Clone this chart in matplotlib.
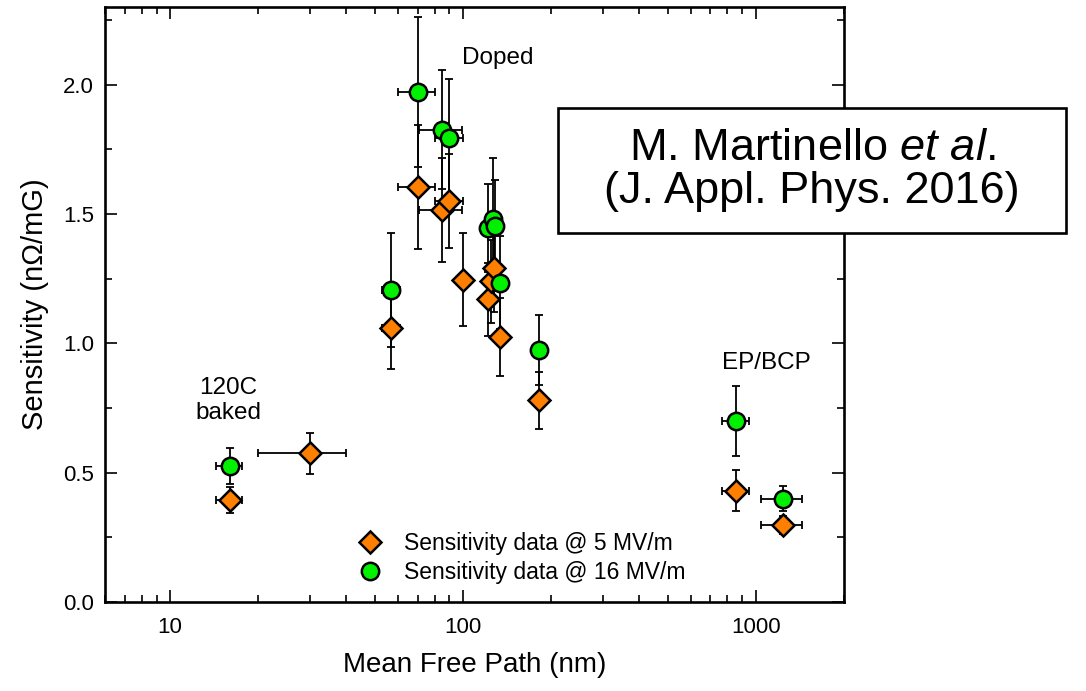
import matplotlib.pyplot as plt
import matplotlib.patches as patches
from matplotlib.ticker import FixedLocator, MultipleLocator, FormatStrFormatter, LogLocator, NullFormatter
import numpy as np

plt.rcParams['font.family'] = ['Liberation Sans', 'DejaVu Sans']
plt.rcParams['mathtext.fontset'] = 'custom'
plt.rcParams['mathtext.rm'] = 'Liberation Sans'
plt.rcParams['mathtext.it'] = 'Liberation Sans:italic'

# sensitivity data @ 5 MV/m
mfp_5 = [16, 30, 57, 70, 85, 90, 100, 122, 125, 128, 134, 182, 855, 1240]
mfp_5_err = [1.6, 10, 4, 10, 14, 10, 0, 5, 5, 5, 5, 0, 90, 200]
sens_5 = [0.395, 0.575, 1.06, 1.605, 1.515, 1.55, 1.245, 1.17, 1.24, 1.29, 1.025, 0.78, 0.43, 0.297]
sens_5_err = [0.05, 0.08, 0.16, 0.24, 0.20, 0.18, 0.18, 0.14, 0.16, 0.17, 0.15, 0.11, 0.08, 0.035]

# sensitivity data @ 16 MV/m
mfp_16 = [16, 57, 70, 85, 90, 122, 127, 129, 134, 182, 855, 1240]
mfp_16_err = [1.6, 4, 10, 14, 10, 5, 5, 5, 5, 0, 90, 200]
sens_16 = [0.525, 1.205, 1.97, 1.825, 1.795, 1.445, 1.48, 1.455, 1.235, 0.975, 0.70, 0.40]
sens_16_err = [0.07, 0.22, 0.29, 0.23, 0.225, 0.17, 0.235, 0.175, 0.18, 0.135, 0.135, 0.05]

orange = '#FF7F00'
green = '#00F000'

fig = plt.figure(figsize=(10.86, 6.91), dpi=100)
ax = fig.add_axes([105 / 1086, 1 - 602 / 691, 739 / 1086, 595 / 691])

ax.errorbar(mfp_5, sens_5, xerr=mfp_5_err, yerr=sens_5_err, fmt='none',
            ecolor='black', elinewidth=1.3, capsize=3.2, capthick=1.3, zorder=2)
ax.errorbar(mfp_16, sens_16, xerr=mfp_16_err, yerr=sens_16_err, fmt='none',
            ecolor='black', elinewidth=1.3, capsize=3.2, capthick=1.3, zorder=2)
ax.plot(mfp_5, sens_5, 'D', color=orange, markersize=11.5, markeredgecolor='black',
        markeredgewidth=1.8, linestyle='none', zorder=3, label='Sensitivity data @ 5 MV/m')
ax.plot(mfp_16, sens_16, 'o', color=green, markersize=12.5, markeredgecolor='black',
        markeredgewidth=1.8, linestyle='none', zorder=4, label='Sensitivity data @ 16 MV/m')

ax.set_xscale('log')
ax.set_xlim(6, 2000)
ax.set_ylim(0, 2.3)
ax.xaxis.set_major_locator(FixedLocator([10, 100, 1000]))
ax.xaxis.set_minor_locator(LogLocator(base=10, subs=np.arange(2, 10)))
ax.xaxis.set_minor_formatter(NullFormatter())
ax.set_xticklabels(['10', '100', '1000'])
ax.yaxis.set_major_locator(MultipleLocator(0.5))
ax.yaxis.set_minor_locator(MultipleLocator(0.25))
ax.yaxis.set_major_formatter(FormatStrFormatter('%.1f'))

ax.tick_params(which='both', direction='in', top=True, right=True, width=1.2, labelsize=16)
ax.tick_params(which='major', length=8.5)
ax.tick_params(axis='x', which='major', pad=11)
ax.tick_params(axis='y', which='major', pad=8)
ax.tick_params(which='minor', length=5)
for s in ax.spines.values():
    s.set_linewidth(1.9)

ax.set_xlabel('Mean Free Path (nm)', fontsize=20, labelpad=10)
ax.set_ylabel('Sensitivity (n\u03a9/mG)', fontsize=21, labelpad=10)

ax.text(131, 2.104, 'Doped', fontsize=17.5, ha='center', va='center')
ax.text(1090, 0.923, 'EP/BCP', fontsize=17.5, ha='center', va='center')
ax.text(15.8, 0.78, '120C\nbaked', fontsize=17.5, ha='center', va='center', linespacing=1.2)

ax.legend(loc='lower left', bbox_to_anchor=(0.343, 0.03), frameon=False, fontsize=16.5,
          handlelength=1.0, handletextpad=1.0, labelspacing=0.25, borderpad=0, borderaxespad=0)

# reference box
fig.patches.append(patches.Rectangle((558 / 1086, 1 - 233 / 691), 508 / 1086, 125 / 691,
                                     transform=fig.transFigure, fill=True, facecolor='white',
                                     edgecolor='black', linewidth=1.9, zorder=10))
fig.text(812 / 1086, 1 - 170 / 691, 'M. Martinello $\\mathit{et\\ al.}$\n(J. Appl. Phys. 2016)',
         fontsize=32.5, ha='center', va='center', linespacing=1.05, zorder=11)

fig.savefig('out.png', dpi=100)
